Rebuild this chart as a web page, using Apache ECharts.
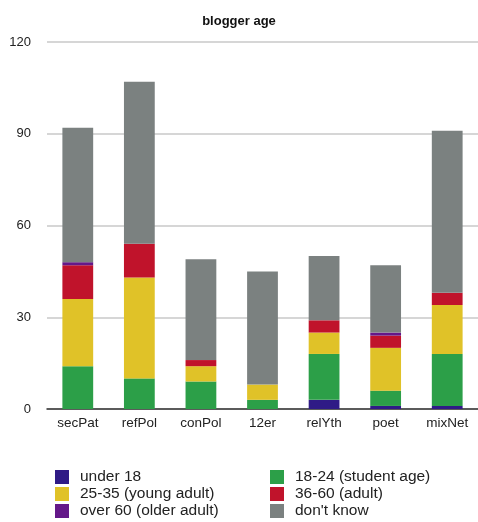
<!DOCTYPE html>
<html>
<head>
<meta charset="utf-8">
<script src="https://cdn.jsdelivr.net/npm/echarts@6/dist/echarts.min.js"></script>
<style>
  html, body { margin: 0; padding: 0; background: #fff; }
  #chart { width: 478px; height: 522px; }
</style>
</head>
<body>
<div id="chart"></div>
<script>
  // categories and stacked values
  const categories = ['secPat', 'refPol', 'conPol', '12er', 'relYth', 'poet', 'mixNet']
  const under18 = [0, 0, 0, 0, 3, 1, 1]
  const student = [14, 10, 9, 3, 15, 5, 17]
  const youngAdult = [22, 33, 5, 5, 7, 14, 16]
  const adult = [11, 11, 2, 0, 4, 4, 4]
  const olderAdult = [1, 0, 0, 0, 0, 1, 0]
  const dontKnow = [44, 53, 33, 37, 21, 22, 53]
  const yTicks = [0, 30, 60, 90, 120]

  const font = 'Liberation Sans, Arial, sans-serif'

  function bar(name, data, color) {
    return {
      name: name,
      type: 'bar',
      stack: 'age',
      barWidth: '50%',
      itemStyle: { color: color },
      data: data
    }
  }

  function legendCol(left, names) {
    return {
      orient: 'vertical',
      left: left,
      top: 469,
      height: 80,
      padding: 0,
      itemWidth: 14,
      itemHeight: 14,
      itemGap: 1,
      icon: 'rect',
      textStyle: { fontFamily: font, fontSize: 15.5, color: '#222', padding: [0, 0, 0, 6] },
      data: names
    }
  }

  const myChart = echarts.init(document.getElementById('chart'))
  myChart.setOption({
    animation: false,
    title: {
      text: 'blogger age',
      left: 'center',
      top: 10,
      textStyle: { fontFamily: font, fontSize: 13, fontWeight: 'bold', color: '#111' }
    },
    grid: { left: 47, right: 0, top: 42, bottom: 113 },
    legend: [
      legendCol(55, ['under 18', '25-35 (young adult)', 'over 60 (older adult)']),
      legendCol(270, ['18-24 (student age)', '36-60 (adult)', "don't know"])
    ],
    xAxis: {
      type: 'category',
      data: categories,
      axisTick: { show: false },
      axisLine: { lineStyle: { color: '#333', width: 1.5 } },
      axisLabel: { fontFamily: font, fontSize: 13.5, color: '#222', margin: 7 }
    },
    yAxis: {
      type: 'value',
      min: yTicks[0],
      max: yTicks[yTicks.length - 1],
      interval: 30,
      axisLine: { show: false },
      axisTick: { show: false },
      axisLabel: { fontFamily: font, fontSize: 13, color: '#222', margin: 16 },
      splitLine: { lineStyle: { color: '#c8c8c8', width: 1.5 } }
    },
    series: [
      bar('under 18', under18, '#2f1b86'),
      bar('18-24 (student age)', student, '#2c9f48'),
      bar('25-35 (young adult)', youngAdult, '#e0c228'),
      bar('36-60 (adult)', adult, '#c0132b'),
      bar('over 60 (older adult)', olderAdult, '#641889'),
      bar("don't know", dontKnow, '#7b8180')
    ]
  })
</script>
</body>
</html>
